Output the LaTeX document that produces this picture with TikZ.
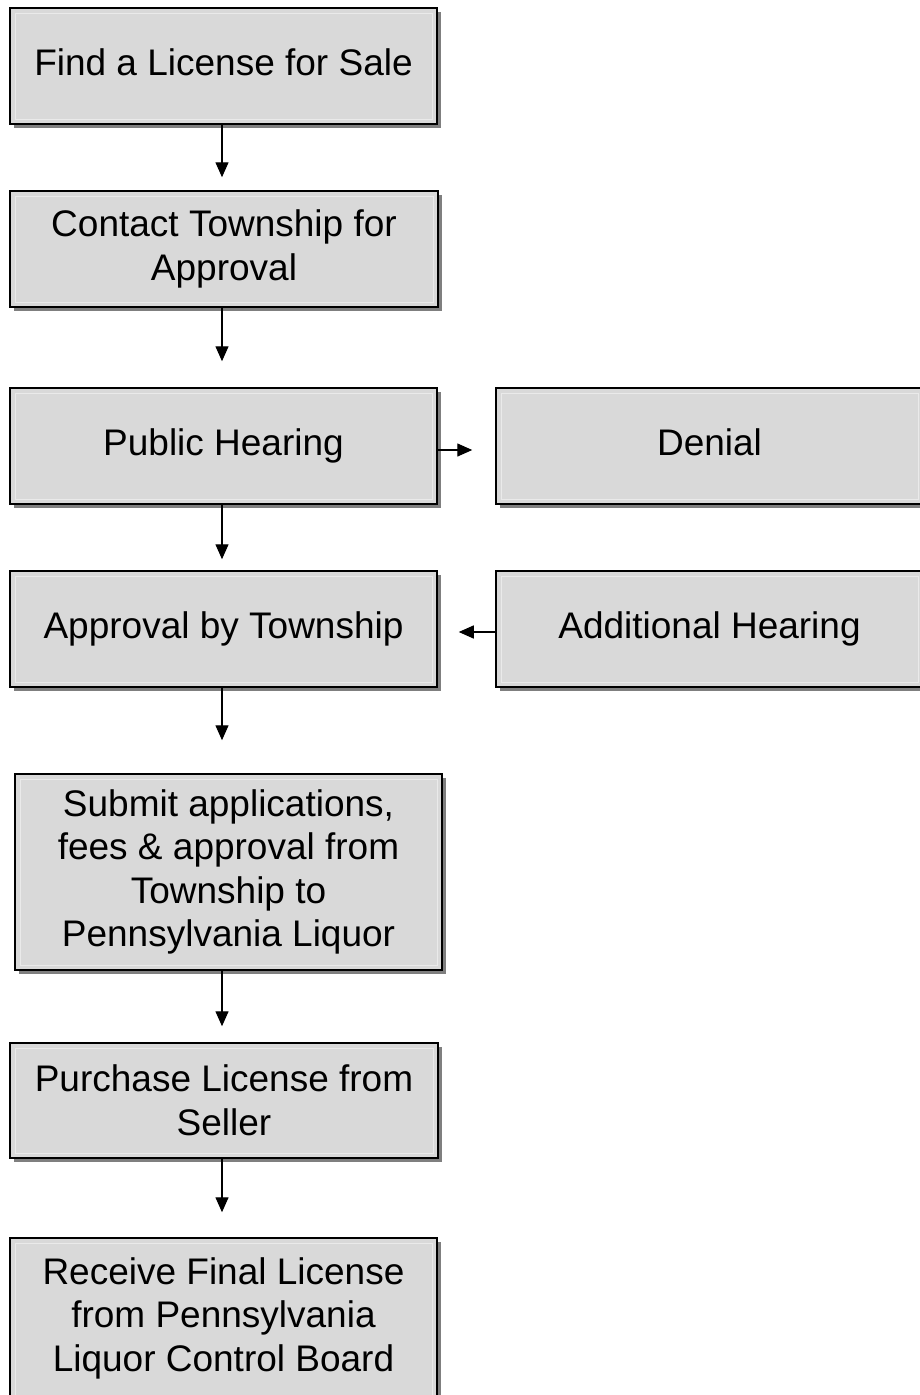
\documentclass[tikz,border=0pt]{standalone}
\usepackage{fontspec}
\setmainfont{Liberation Sans}
\usetikzlibrary{arrows.meta,shadows}
\definecolor{boxfill}{HTML}{D9D9D9}
\definecolor{shadowgray}{HTML}{7F7F7F}
\begin{document}
\begin{tikzpicture}[x=1pt,y=-1pt,
  stepbox/.style={draw=black, line width=1.5pt, fill=boxfill, inner sep=0pt, align=center,
    font=\fontsize{37}{43.5}\selectfont,
    drop shadow={shadow xshift=4pt, shadow yshift=-4pt, fill=shadowgray, opacity=1},
    path picture={\draw[white, opacity=0.45, line width=1pt]
      ([shift={(5pt,-5pt)}]path picture bounding box.north west) rectangle
      ([shift={(-5pt,5pt)}]path picture bounding box.south east);}},
  flow/.style={-{Triangle[length=15pt,width=13pt]}, line width=1.4pt}]
\clip (0,0) rectangle (920,1395);
\fill[white] (0,0) rectangle (920,1395);
\coordinate (axis) at (222,0);
\node[stepbox, minimum width=427pt, minimum height=116pt] (find) at (223.5,66) {Find a License for Sale\vphantom{g}};
\node[stepbox, minimum width=428pt, minimum height=116pt] (contact) at (224,249) {Contact Township for\\Approval};
\node[stepbox, minimum width=427pt, minimum height=116pt] (public) at (223.5,446) {Public Hearing};
\node[stepbox, minimum width=427pt, minimum height=116pt] (denial) at (709.5,446) {Denial\vphantom{g}};
\node[stepbox, minimum width=427pt, minimum height=116pt] (approval) at (223.5,629) {Approval by Township};
\node[stepbox, minimum width=427pt, minimum height=116pt] (additional) at (709.5,629) {Additional Hearing};
\node[stepbox, minimum width=427pt, minimum height=196pt] (submit) at (228.5,872) {Submit applications,\\fees \& approval from\\Township to\\Pennsylvania Liquor};
\node[stepbox, minimum width=428pt, minimum height=115pt] (purchase) at (224,1100.5) {Purchase License from\\Seller};
\node[stepbox, minimum width=427pt, minimum height=182pt,
  label={[align=center, font=\fontsize{37}{43.5}\selectfont, yshift=11pt]center:Receive Final License\\from Pennsylvania\\Liquor Control Board}] (receive) at (223.5,1329) {};
\draw[flow, shorten >=13pt] (find.south -| axis) -- (contact.north -| axis);
\draw[flow, shorten >=26pt] (contact.south -| axis) -- (public.north -| axis);
\draw[flow, shorten >=11pt] (public.south -| axis) -- (approval.north -| axis);
\draw[flow, shorten >=33pt] (approval.south -| axis) -- (submit.north -| axis);
\draw[flow, shorten >=16pt] (submit.south -| axis) -- (purchase.north -| axis);
\draw[flow, shorten >=25pt] (purchase.south -| axis) -- (receive.north -| axis);
\draw[flow, shorten >=23pt] ([yshift=-4pt]public.east) -- ([yshift=-4pt]denial.west);
\draw[flow, shorten >=21pt] ([yshift=-3pt]additional.west) -- ([yshift=-3pt]approval.east);
\end{tikzpicture}
\end{document}
